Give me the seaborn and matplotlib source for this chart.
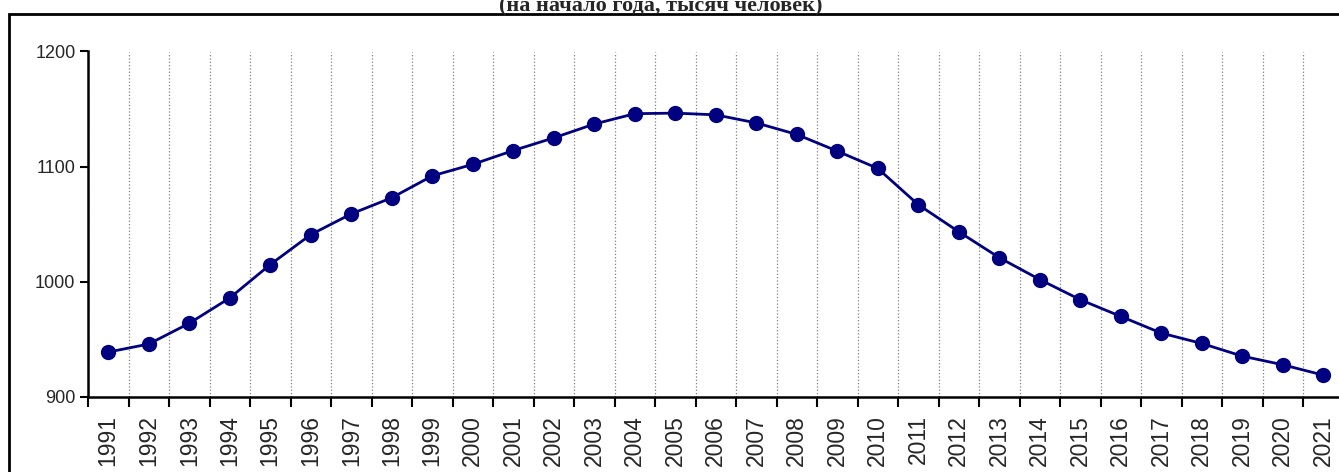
import numpy as np
import pandas as pd
import seaborn as sns
import matplotlib.pyplot as plt
from matplotlib.patches import Rectangle

# population, thousand people, at the start of each year
years = [str(y) for y in range(1991, 2022)]
population = [939, 946, 964, 986, 1015, 1041, 1059, 1073, 1092, 1102,
              1114, 1125, 1137, 1146, 1146.5, 1145, 1138, 1128, 1113.5, 1098.5,
              1067, 1043.5, 1021, 1002, 984.5, 970, 955.5, 946.5, 935.5, 928, 919]
title = "(на начало года, тысяч человек)"

df = pd.DataFrame({"year": years, "population": population})

sns.set_style("white")
plt.rcParams['font.family'] = ['Liberation Sans', 'DejaVu Sans']

fig = plt.figure(figsize=(13.39, 4.72), dpi=100)
ax = fig.add_axes([88 / 1339, 1 - 397 / 472, 1255.5 / 1339, 345.5 / 472])

sns.pointplot(data=df, x="year", y="population", color="#000080",
              markers="o", markersize=9.5, linewidth=2, ax=ax)

ax.set_xlim(-0.5, len(years) - 0.5)
ax.set_ylim(900, 1200)
ax.set_yticks([900, 1000, 1100, 1200])
ax.set_xlabel("")
ax.set_ylabel("")

# labels at category centres, tick marks and grid at boundaries
ax.set_xticks(np.arange(len(years)))
ax.set_xticklabels(years, rotation=90, fontsize=16.5)
ax.set_xticks(np.arange(len(years) + 1) - 0.5, minor=True)
ax.tick_params(axis="x", which="major", length=0, pad=13)
ax.tick_params(axis="x", which="minor", length=7, width=1.5, color="black",
               direction="out", bottom=True)
ax.tick_params(axis="y", length=6, width=1.5, color="black", direction="out",
               labelsize=13, pad=3, left=True)
ax.grid(False)
ax.grid(True, axis="x", which="minor", color="#808080", linestyle=":", linewidth=0.9)

for side in ["top", "right"]:
    ax.spines[side].set_visible(False)
for side in ["left", "bottom"]:
    ax.spines[side].set_color("black")
    ax.spines[side].set_linewidth(1.8)

# outer frame
fig.patches.append(Rectangle((9 / 1339, -0.05), 1.1, 1 - 14 / 472 + 0.05,
                             transform=fig.transFigure, fill=False,
                             edgecolor="black", linewidth=2, clip_on=False))

fig.text(661 / 1339, 1 - 11 / 472, title, ha="center", va="baseline",
         fontsize=16, fontweight="bold", family=["Liberation Serif", "DejaVu Serif"])

fig.savefig("out.png", dpi=100)
